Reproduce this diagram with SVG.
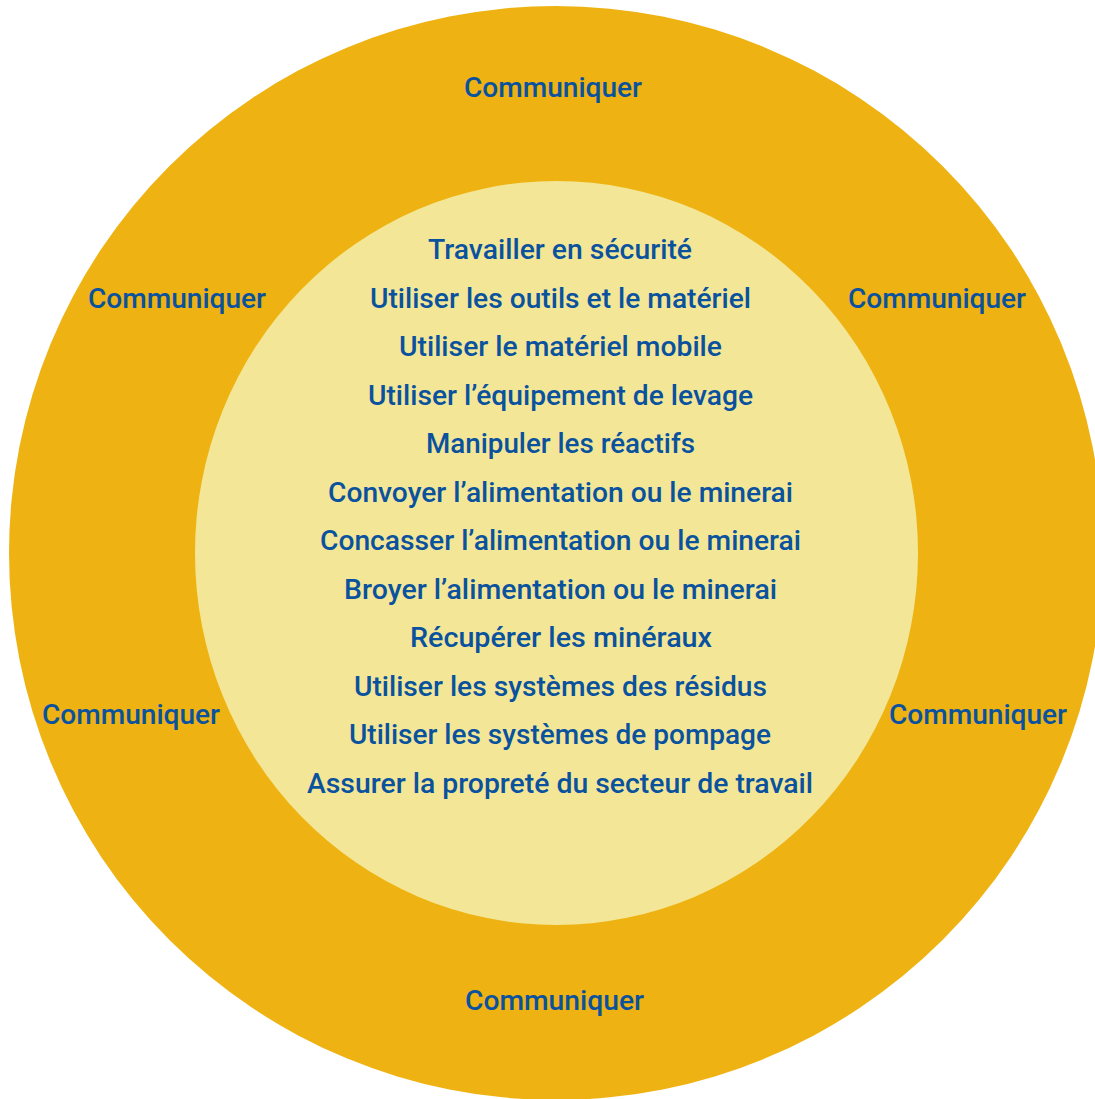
<svg xmlns="http://www.w3.org/2000/svg" width="1095" height="1099" viewBox="0 0 1095 1099">
<style>
.t{font-family:Roboto,"Liberation Sans",sans-serif;font-weight:500;font-size:27px;fill:#0a529e;text-anchor:middle}
</style>
<rect width="1095" height="1099" fill="#ffffff"/>
<g id="outer">
<ellipse cx="556" cy="553" rx="547" ry="547" fill="#eeb313"/>
<text class="t" x="553" y="97" textLength="178" lengthAdjust="spacingAndGlyphs">Communiquer</text>
<text class="t" x="177" y="308" textLength="178" lengthAdjust="spacingAndGlyphs">Communiquer</text>
<text class="t" x="937" y="308" textLength="178" lengthAdjust="spacingAndGlyphs">Communiquer</text>
<text class="t" x="131" y="724" textLength="178" lengthAdjust="spacingAndGlyphs">Communiquer</text>
<text class="t" x="978" y="724" textLength="178" lengthAdjust="spacingAndGlyphs">Communiquer</text>
<text class="t" x="554.5" y="1010" textLength="179" lengthAdjust="spacingAndGlyphs">Communiquer</text>
</g>
<g id="inner">
<ellipse cx="556.5" cy="553" rx="361.5" ry="372" fill="#f3e797"/>
<text class="t" x="560" y="259" textLength="264" lengthAdjust="spacingAndGlyphs">Travailler en sécurité</text>
<text class="t" x="560.5" y="307.5" textLength="381" lengthAdjust="spacingAndGlyphs">Utiliser les outils et le matériel</text>
<text class="t" x="560.5" y="356" textLength="323" lengthAdjust="spacingAndGlyphs">Utiliser le matériel mobile</text>
<text class="t" x="560.5" y="404.5" textLength="385" lengthAdjust="spacingAndGlyphs">Utiliser l’équipement de levage</text>
<text class="t" x="560.5" y="453" textLength="269" lengthAdjust="spacingAndGlyphs">Manipuler les réactifs</text>
<text class="t" x="560.5" y="501.5" textLength="465" lengthAdjust="spacingAndGlyphs">Convoyer l’alimentation ou le minerai</text>
<text class="t" x="560.5" y="550" textLength="481" lengthAdjust="spacingAndGlyphs">Concasser l’alimentation ou le minerai</text>
<text class="t" x="560.5" y="598.5" textLength="433" lengthAdjust="spacingAndGlyphs">Broyer l’alimentation ou le minerai</text>
<text class="t" x="561" y="647" textLength="302" lengthAdjust="spacingAndGlyphs">Récupérer les minéraux</text>
<text class="t" x="560.5" y="695.5" textLength="413" lengthAdjust="spacingAndGlyphs">Utiliser les systèmes des résidus</text>
<text class="t" x="560" y="744" textLength="422" lengthAdjust="spacingAndGlyphs">Utiliser les systèmes de pompage</text>
<text class="t" x="560" y="792.5" textLength="506" lengthAdjust="spacingAndGlyphs">Assurer la propreté du secteur de travail</text>
</g>
</svg>
